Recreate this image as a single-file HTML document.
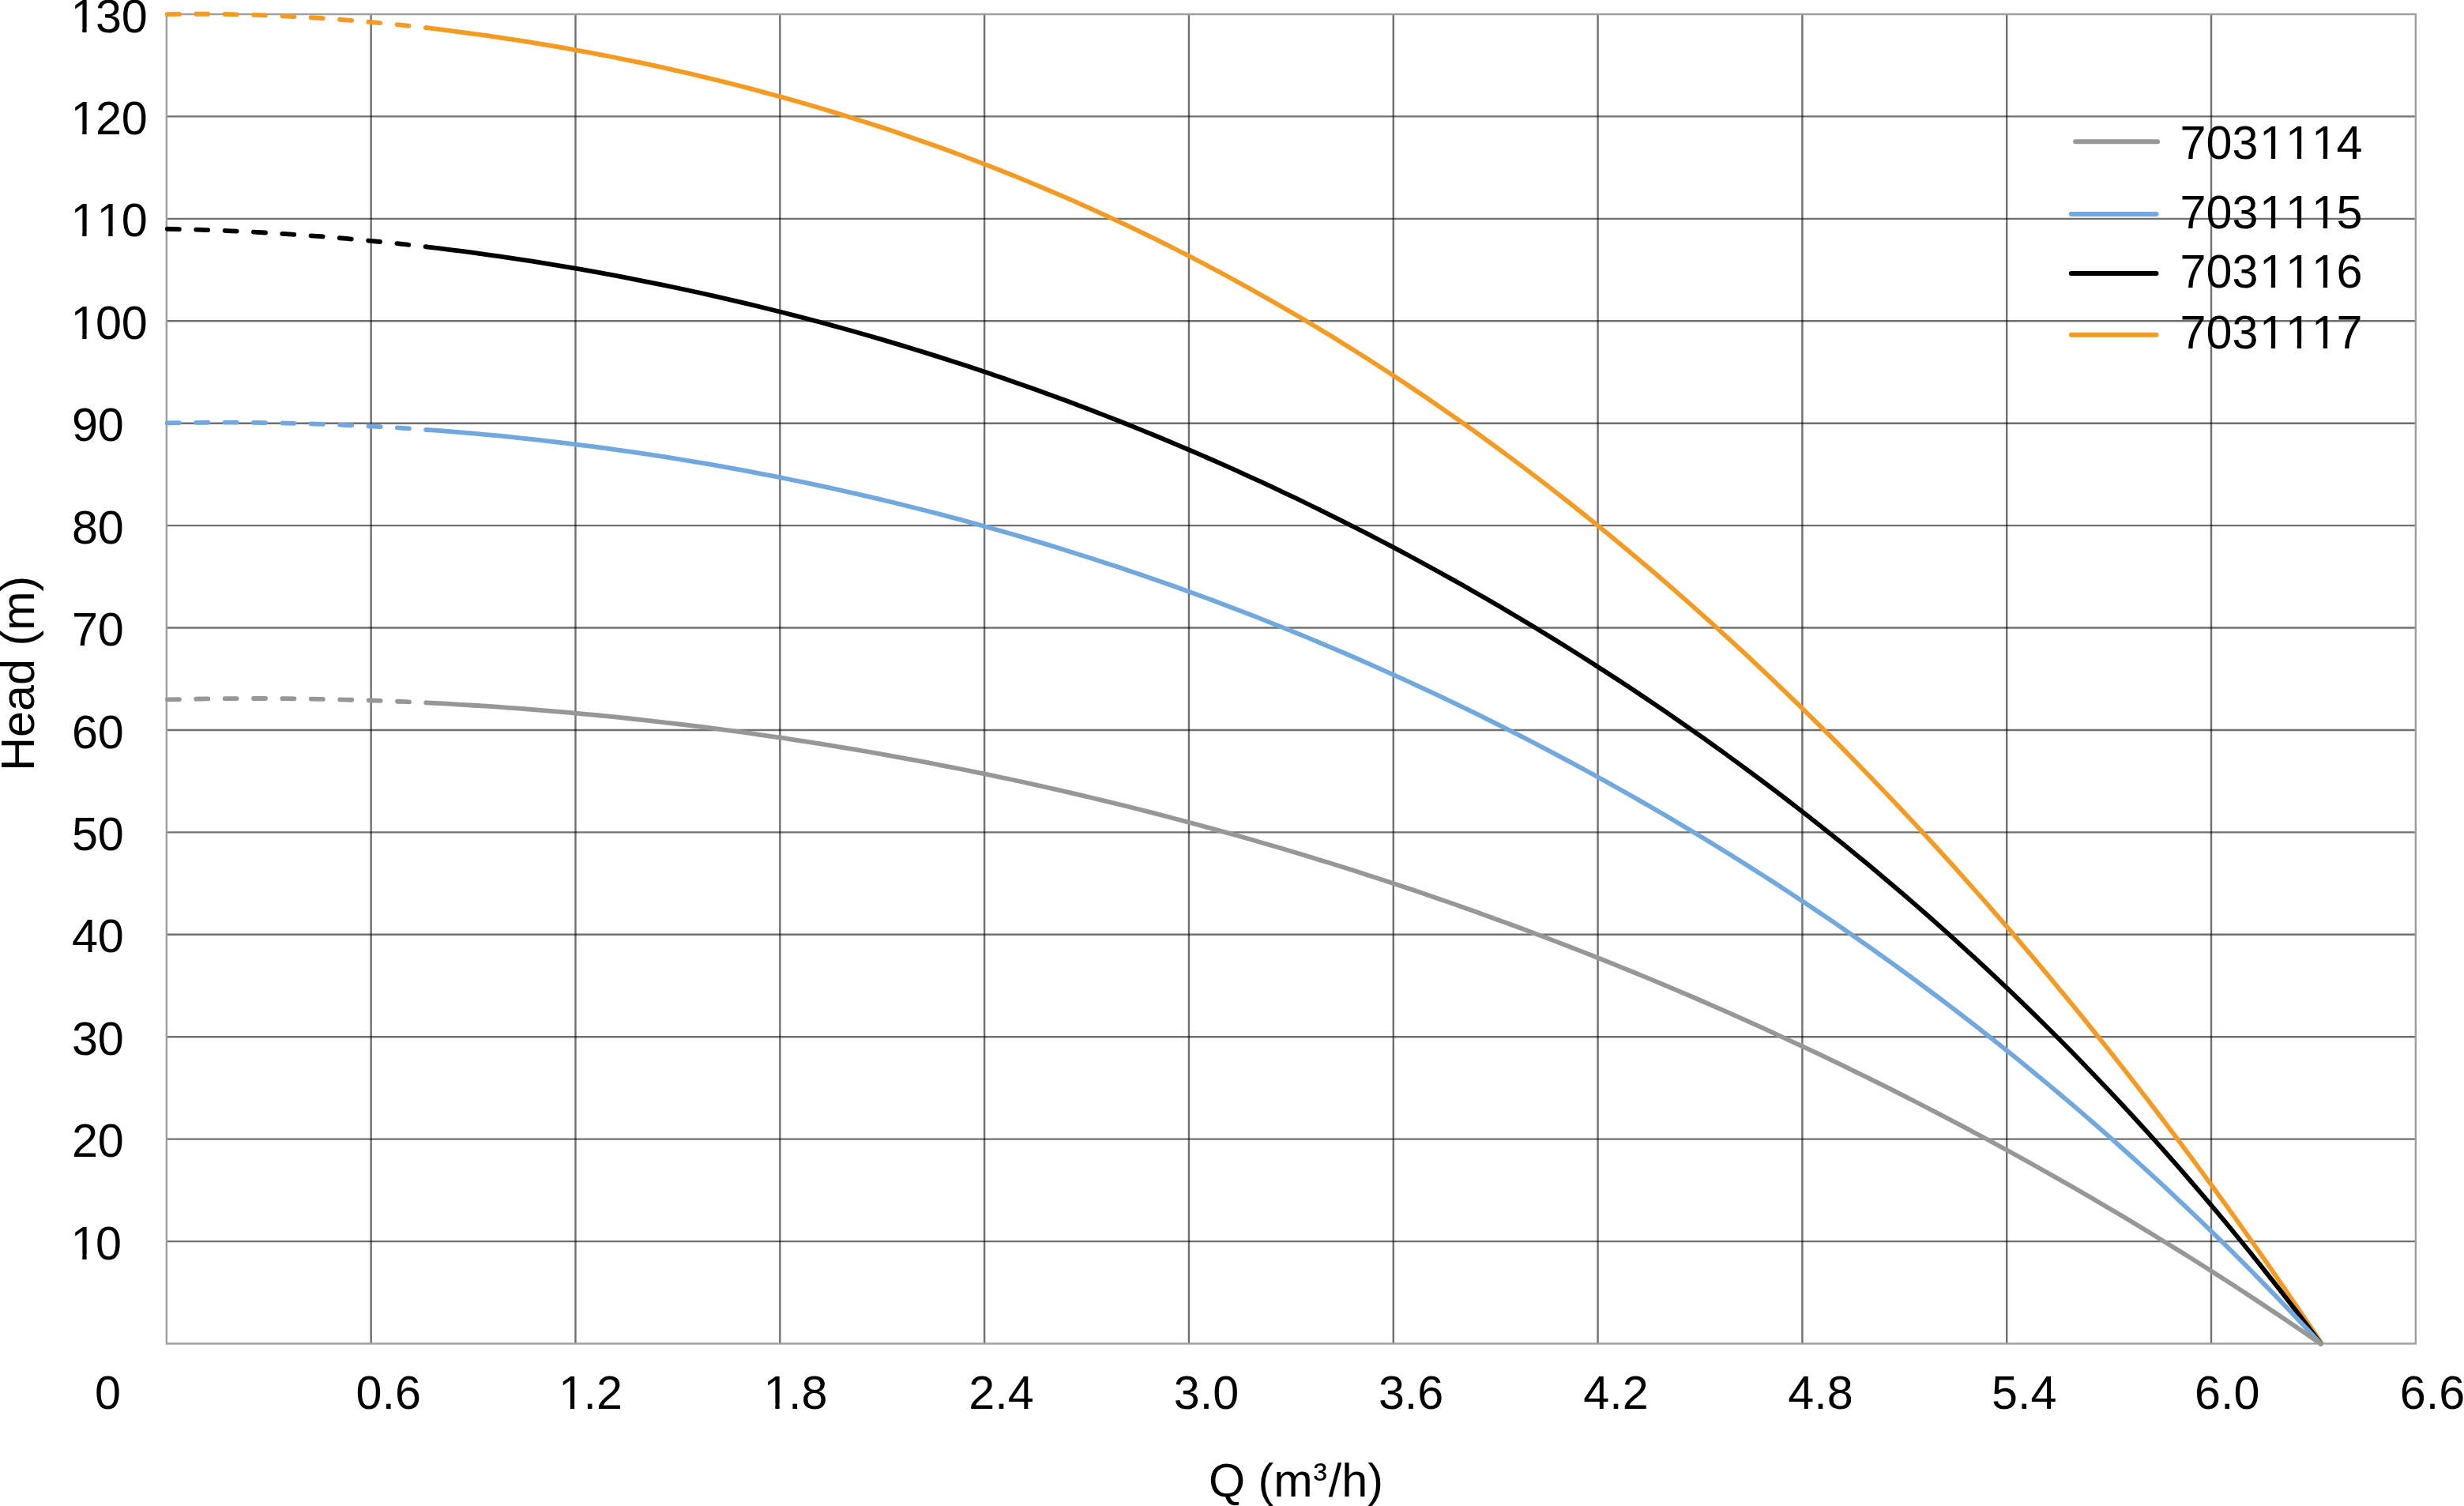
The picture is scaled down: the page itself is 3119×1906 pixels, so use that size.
<!DOCTYPE html>
<html><head><meta charset="utf-8"><title>Pump curves</title>
<style>html,body{margin:0;padding:0;background:#fff;overflow:hidden}svg{display:block}text{font-kerning:none;font-feature-settings:"kern" 0;}</style>
</head><body>
<svg xmlns="http://www.w3.org/2000/svg" width="3119" height="1906" viewBox="0 0 3119 1906">
<rect width="3119" height="1906" fill="#fff"/>
<path d="M469.67,18.00V1700.50M728.49,18.00V1700.50M987.30,18.00V1700.50M1246.12,18.00V1700.50M1504.94,18.00V1700.50M1763.76,18.00V1700.50M2022.58,18.00V1700.50M2281.40,18.00V1700.50M2540.21,18.00V1700.50M2799.03,18.00V1700.50" stroke="#000" stroke-opacity="0.56" stroke-width="2.4" fill="none"/>
<path d="M210.85,147.42H3057.85M210.85,276.85H3057.85M210.85,406.27H3057.85M210.85,535.69H3057.85M210.85,665.12H3057.85M210.85,794.54H3057.85M210.85,923.96H3057.85M210.85,1053.38H3057.85M210.85,1182.81H3057.85M210.85,1312.23H3057.85M210.85,1441.65H3057.85M210.85,1571.08H3057.85" stroke="#000" stroke-opacity="0.56" stroke-width="2.4" fill="none"/>
<rect x="210.85" y="18.00" width="2847.00" height="1682.50" stroke="#9e9e9e" stroke-width="2.4" fill="none"/>
<path d="M210.85,18.09 L236.13,17.75 L261.42,17.73 L286.70,18.01 L311.99,18.57 L337.27,19.40 L362.56,20.51 L387.84,21.88 L413.13,23.49 L438.41,25.36 L463.70,27.47 L488.98,29.81 L514.26,32.39 L539.55,35.20" stroke="#f49b24" stroke-width="5.8" fill="none" stroke-linecap="round" stroke-linejoin="round" stroke-dasharray="15 21.4" stroke-dashoffset="-1"/>
<path d="M539.55,35.20 L554.63,36.98 L569.72,38.84 L584.80,40.78 L599.88,42.80 L614.96,44.91 L630.05,47.09 L645.13,49.35 L660.21,51.68 L675.30,54.10 L690.38,56.60 L705.46,59.17 L720.55,61.83 L735.63,64.56 L750.71,67.37 L765.80,70.27 L780.88,73.24 L795.96,76.29 L811.04,79.43 L826.13,82.65 L841.21,85.94 L856.29,89.33 L871.38,92.79 L886.46,96.34 L901.54,99.97 L916.63,103.69 L931.71,107.50 L946.79,111.39 L961.88,115.37 L976.96,119.43 L992.04,123.59 L1007.12,127.83 L1022.21,132.17 L1037.29,136.59 L1052.37,141.11 L1067.46,145.73 L1082.54,150.43 L1097.62,155.23 L1112.71,160.13 L1127.79,165.12 L1142.87,170.21 L1157.96,175.40 L1173.04,180.69 L1188.12,186.07 L1203.20,191.56 L1218.29,197.15 L1233.37,202.85 L1248.45,208.64 L1263.54,214.55 L1278.62,220.55 L1293.70,226.67 L1308.79,232.89 L1323.87,239.22 L1338.95,245.66 L1354.04,252.21 L1369.12,258.87 L1384.20,265.64 L1399.28,272.53 L1414.37,279.52 L1429.45,286.64 L1444.53,293.87 L1459.62,301.21 L1474.70,308.67 L1489.78,316.25 L1504.87,323.95 L1519.95,331.77 L1535.03,339.70 L1550.12,347.76 L1565.20,355.94 L1580.28,364.25 L1595.36,372.67 L1610.45,381.22 L1625.53,389.90 L1640.61,398.69 L1655.70,407.62 L1670.78,416.67 L1685.86,425.85 L1700.95,435.16 L1716.03,444.60 L1731.11,454.16 L1746.20,463.86 L1761.28,473.68 L1776.36,483.64 L1791.44,493.73 L1806.53,503.95 L1821.61,514.30 L1836.69,524.79 L1851.78,535.41 L1866.86,546.17 L1881.94,557.06 L1897.03,568.09 L1912.11,579.25 L1927.19,590.55 L1942.28,601.99 L1957.36,613.56 L1972.44,625.28 L1987.52,637.13 L2002.61,649.12 L2017.69,661.25 L2032.77,673.53 L2047.86,685.94 L2062.94,698.49 L2078.02,711.19 L2093.11,724.03 L2108.19,737.01 L2123.27,750.14 L2138.36,763.41 L2153.44,776.83 L2168.52,790.39 L2183.60,804.10 L2198.69,817.95 L2213.77,831.96 L2228.85,846.11 L2243.94,860.40 L2259.02,874.85 L2274.10,889.45 L2289.19,904.20 L2304.27,919.11 L2319.35,934.16 L2334.44,949.37 L2349.52,964.73 L2364.60,980.25 L2379.68,995.92 L2394.77,1011.75 L2409.85,1027.74 L2424.93,1043.89 L2440.02,1060.20 L2455.10,1076.67 L2470.18,1093.30 L2485.27,1110.10 L2500.35,1127.06 L2515.43,1144.19 L2530.52,1161.49 L2545.60,1178.96 L2560.68,1196.59 L2575.76,1214.40 L2590.85,1232.39 L2605.93,1250.54 L2621.01,1268.88 L2636.10,1287.40 L2651.18,1306.10 L2666.26,1324.98 L2681.35,1344.04 L2696.43,1363.30 L2711.51,1382.74 L2726.60,1402.37 L2741.68,1422.21 L2756.76,1442.23 L2771.84,1462.46 L2786.93,1482.89 L2802.01,1503.52 L2817.09,1524.36 L2832.18,1545.42 L2847.26,1566.68 L2862.34,1588.17 L2877.43,1609.87 L2892.51,1631.80 L2907.59,1653.96 L2922.68,1676.35 L2937.76,1698.97" stroke="#f49b24" stroke-width="5.8" fill="none" stroke-linecap="round" stroke-linejoin="round"/>
<path d="M210.85,289.72 L236.13,290.30 L261.42,291.07 L286.70,292.05 L311.99,293.22 L337.27,294.59 L362.56,296.14 L387.84,297.89 L413.13,299.83 L438.41,301.96 L463.70,304.27 L488.98,306.77 L514.26,309.46 L539.55,312.34" stroke="#000000" stroke-width="5.8" fill="none" stroke-linecap="round" stroke-linejoin="round" stroke-dasharray="15 21.4" stroke-dashoffset="-1"/>
<path d="M539.55,312.34 L554.63,314.14 L569.72,316.01 L584.80,317.95 L599.88,319.95 L614.96,322.02 L630.05,324.16 L645.13,326.36 L660.21,328.63 L675.30,330.97 L690.38,333.37 L705.46,335.84 L720.55,338.38 L735.63,340.98 L750.71,343.65 L765.80,346.40 L780.88,349.20 L795.96,352.08 L811.04,355.03 L826.13,358.04 L841.21,361.12 L856.29,364.27 L871.38,367.49 L886.46,370.78 L901.54,374.14 L916.63,377.57 L931.71,381.07 L946.79,384.64 L961.88,388.29 L976.96,392.00 L992.04,395.78 L1007.12,399.64 L1022.21,403.57 L1037.29,407.57 L1052.37,411.64 L1067.46,415.78 L1082.54,420.00 L1097.62,424.30 L1112.71,428.66 L1127.79,433.10 L1142.87,437.62 L1157.96,442.21 L1173.04,446.87 L1188.12,451.61 L1203.20,456.43 L1218.29,461.32 L1233.37,466.29 L1248.45,471.33 L1263.54,476.45 L1278.62,481.65 L1293.70,486.93 L1308.79,492.29 L1323.87,497.72 L1338.95,503.23 L1354.04,508.83 L1369.12,514.50 L1384.20,520.25 L1399.28,526.09 L1414.37,532.00 L1429.45,538.00 L1444.53,544.08 L1459.62,550.24 L1474.70,556.48 L1489.78,562.80 L1504.87,569.21 L1519.95,575.71 L1535.03,582.28 L1550.12,588.95 L1565.20,595.69 L1580.28,602.53 L1595.36,609.45 L1610.45,616.45 L1625.53,623.55 L1640.61,630.73 L1655.70,638.00 L1670.78,645.36 L1685.86,652.81 L1700.95,660.35 L1716.03,667.98 L1731.11,675.70 L1746.20,683.51 L1761.28,691.42 L1776.36,699.42 L1791.44,707.51 L1806.53,715.70 L1821.61,723.99 L1836.69,732.37 L1851.78,740.84 L1866.86,749.42 L1881.94,758.09 L1897.03,766.86 L1912.11,775.74 L1927.19,784.71 L1942.28,793.79 L1957.36,802.97 L1972.44,812.25 L1987.52,821.64 L2002.61,831.13 L2017.69,840.73 L2032.77,850.44 L2047.86,860.26 L2062.94,870.19 L2078.02,880.23 L2093.11,890.38 L2108.19,900.65 L2123.27,911.04 L2138.36,921.54 L2153.44,932.15 L2168.52,942.89 L2183.60,953.75 L2198.69,964.73 L2213.77,975.84 L2228.85,987.07 L2243.94,998.43 L2259.02,1009.92 L2274.10,1021.54 L2289.19,1033.29 L2304.27,1045.17 L2319.35,1057.20 L2334.44,1069.36 L2349.52,1081.66 L2364.60,1094.10 L2379.68,1106.69 L2394.77,1119.43 L2409.85,1132.31 L2424.93,1145.35 L2440.02,1158.54 L2455.10,1171.89 L2470.18,1185.40 L2485.27,1199.06 L2500.35,1212.90 L2515.43,1226.89 L2530.52,1241.06 L2545.60,1255.41 L2560.68,1269.92 L2575.76,1284.62 L2590.85,1299.50 L2605.93,1314.56 L2621.01,1329.82 L2636.10,1345.26 L2651.18,1360.90 L2666.26,1376.74 L2681.35,1392.78 L2696.43,1409.03 L2711.51,1425.49 L2726.60,1442.16 L2741.68,1459.05 L2756.76,1476.16 L2771.84,1493.51 L2786.93,1511.08 L2802.01,1528.88 L2817.09,1546.93 L2832.18,1565.23 L2847.26,1583.77 L2862.34,1602.57 L2877.43,1621.62 L2892.51,1640.94 L2907.59,1660.54 L2922.68,1680.40 L2937.76,1700.55" stroke="#000000" stroke-width="5.8" fill="none" stroke-linecap="round" stroke-linejoin="round"/>
<path d="M210.85,535.41 L236.13,534.98 L261.42,534.73 L286.70,534.66 L311.99,534.78 L337.27,535.07 L362.56,535.54 L387.84,536.19 L413.13,537.02 L438.41,538.03 L463.70,539.21 L488.98,540.58 L514.26,542.12 L539.55,543.84" stroke="#71a8dd" stroke-width="5.8" fill="none" stroke-linecap="round" stroke-linejoin="round" stroke-dasharray="15 21.4" stroke-dashoffset="-1"/>
<path d="M539.55,543.84 L554.63,544.95 L569.72,546.12 L584.80,547.36 L599.88,548.66 L614.96,550.03 L630.05,551.46 L645.13,552.95 L660.21,554.51 L675.30,556.13 L690.38,557.82 L705.46,559.56 L720.55,561.38 L735.63,563.26 L750.71,565.20 L765.80,567.21 L780.88,569.28 L795.96,571.42 L811.04,573.63 L826.13,575.89 L841.21,578.23 L856.29,580.63 L871.38,583.10 L886.46,585.63 L901.54,588.23 L916.63,590.89 L931.71,593.62 L946.79,596.42 L961.88,599.29 L976.96,602.22 L992.04,605.22 L1007.12,608.28 L1022.21,611.42 L1037.29,614.62 L1052.37,617.89 L1067.46,621.23 L1082.54,624.64 L1097.62,628.11 L1112.71,631.66 L1127.79,635.27 L1142.87,638.95 L1157.96,642.71 L1173.04,646.53 L1188.12,650.42 L1203.20,654.38 L1218.29,658.42 L1233.37,662.52 L1248.45,666.70 L1263.54,670.94 L1278.62,675.26 L1293.70,679.65 L1308.79,684.11 L1323.87,688.64 L1338.95,693.25 L1354.04,697.93 L1369.12,702.68 L1384.20,707.50 L1399.28,712.40 L1414.37,717.37 L1429.45,722.41 L1444.53,727.53 L1459.62,732.73 L1474.70,738.00 L1489.78,743.34 L1504.87,748.76 L1519.95,754.26 L1535.03,759.83 L1550.12,765.48 L1565.20,771.20 L1580.28,777.01 L1595.36,782.89 L1610.45,788.85 L1625.53,794.88 L1640.61,801.00 L1655.70,807.19 L1670.78,813.47 L1685.86,819.82 L1700.95,826.25 L1716.03,832.77 L1731.11,839.36 L1746.20,846.04 L1761.28,852.80 L1776.36,859.64 L1791.44,866.56 L1806.53,873.57 L1821.61,880.66 L1836.69,887.84 L1851.78,895.10 L1866.86,902.45 L1881.94,909.88 L1897.03,917.40 L1912.11,925.01 L1927.19,932.70 L1942.28,940.48 L1957.36,948.36 L1972.44,956.32 L1987.52,964.37 L2002.61,972.51 L2017.69,980.75 L2032.77,989.07 L2047.86,997.49 L2062.94,1006.01 L2078.02,1014.62 L2093.11,1023.32 L2108.19,1032.12 L2123.27,1041.02 L2138.36,1050.02 L2153.44,1059.11 L2168.52,1068.31 L2183.60,1077.60 L2198.69,1087.00 L2213.77,1096.50 L2228.85,1106.10 L2243.94,1115.81 L2259.02,1125.63 L2274.10,1135.55 L2289.19,1145.58 L2304.27,1155.72 L2319.35,1165.97 L2334.44,1176.33 L2349.52,1186.80 L2364.60,1197.39 L2379.68,1208.09 L2394.77,1218.91 L2409.85,1229.85 L2424.93,1240.91 L2440.02,1252.09 L2455.10,1263.39 L2470.18,1274.81 L2485.27,1286.36 L2500.35,1298.04 L2515.43,1309.85 L2530.52,1321.79 L2545.60,1333.85 L2560.68,1346.06 L2575.76,1358.40 L2590.85,1370.87 L2605.93,1383.49 L2621.01,1396.25 L2636.10,1409.15 L2651.18,1422.20 L2666.26,1435.39 L2681.35,1448.73 L2696.43,1462.23 L2711.51,1475.88 L2726.60,1489.69 L2741.68,1503.65 L2756.76,1517.78 L2771.84,1532.07 L2786.93,1546.52 L2802.01,1561.15 L2817.09,1575.94 L2832.18,1590.91 L2847.26,1606.05 L2862.34,1621.38 L2877.43,1636.88 L2892.51,1652.58 L2907.59,1668.46 L2922.68,1684.53 L2937.76,1700.79" stroke="#71a8dd" stroke-width="5.8" fill="none" stroke-linecap="round" stroke-linejoin="round"/>
<path d="M210.85,885.46 L236.13,884.87 L261.42,884.43 L286.70,884.14 L311.99,884.01 L337.27,884.02 L362.56,884.18 L387.84,884.49 L413.13,884.94 L438.41,885.54 L463.70,886.28 L488.98,887.17 L514.26,888.20 L539.55,889.37" stroke="#979797" stroke-width="5.8" fill="none" stroke-linecap="round" stroke-linejoin="round" stroke-dasharray="15 21.4" stroke-dashoffset="-1"/>
<path d="M539.55,889.37 L554.63,890.14 L569.72,890.95 L584.80,891.82 L599.88,892.74 L614.96,893.71 L630.05,894.73 L645.13,895.80 L660.21,896.92 L675.30,898.09 L690.38,899.31 L705.46,900.58 L720.55,901.90 L735.63,903.27 L750.71,904.69 L765.80,906.16 L780.88,907.68 L795.96,909.25 L811.04,910.87 L826.13,912.54 L841.21,914.26 L856.29,916.03 L871.38,917.85 L886.46,919.73 L901.54,921.65 L916.63,923.62 L931.71,925.64 L946.79,927.72 L961.88,929.84 L976.96,932.02 L992.04,934.24 L1007.12,936.52 L1022.21,938.85 L1037.29,941.23 L1052.37,943.66 L1067.46,946.14 L1082.54,948.67 L1097.62,951.25 L1112.71,953.89 L1127.79,956.57 L1142.87,959.31 L1157.96,962.10 L1173.04,964.94 L1188.12,967.83 L1203.20,970.78 L1218.29,973.77 L1233.37,976.82 L1248.45,979.92 L1263.54,983.07 L1278.62,986.28 L1293.70,989.54 L1308.79,992.85 L1323.87,996.21 L1338.95,999.63 L1354.04,1003.10 L1369.12,1006.62 L1384.20,1010.20 L1399.28,1013.82 L1414.37,1017.51 L1429.45,1021.24 L1444.53,1025.03 L1459.62,1028.88 L1474.70,1032.78 L1489.78,1036.73 L1504.87,1040.73 L1519.95,1044.79 L1535.03,1048.91 L1550.12,1053.08 L1565.20,1057.30 L1580.28,1061.58 L1595.36,1065.92 L1610.45,1070.31 L1625.53,1074.75 L1640.61,1079.25 L1655.70,1083.81 L1670.78,1088.42 L1685.86,1093.09 L1700.95,1097.81 L1716.03,1102.59 L1731.11,1107.43 L1746.20,1112.32 L1761.28,1117.27 L1776.36,1122.28 L1791.44,1127.34 L1806.53,1132.46 L1821.61,1137.64 L1836.69,1142.88 L1851.78,1148.17 L1866.86,1153.53 L1881.94,1158.94 L1897.03,1164.41 L1912.11,1169.93 L1927.19,1175.52 L1942.28,1181.16 L1957.36,1186.87 L1972.44,1192.63 L1987.52,1198.46 L2002.61,1204.34 L2017.69,1210.28 L2032.77,1216.29 L2047.86,1222.35 L2062.94,1228.48 L2078.02,1234.66 L2093.11,1240.91 L2108.19,1247.22 L2123.27,1253.59 L2138.36,1260.03 L2153.44,1266.52 L2168.52,1273.08 L2183.60,1279.70 L2198.69,1286.39 L2213.77,1293.14 L2228.85,1299.95 L2243.94,1306.82 L2259.02,1313.77 L2274.10,1320.77 L2289.19,1327.85 L2304.27,1334.98 L2319.35,1342.19 L2334.44,1349.46 L2349.52,1356.79 L2364.60,1364.20 L2379.68,1371.67 L2394.77,1379.21 L2409.85,1386.82 L2424.93,1394.50 L2440.02,1402.25 L2455.10,1410.06 L2470.18,1417.95 L2485.27,1425.91 L2500.35,1433.94 L2515.43,1442.05 L2530.52,1450.22 L2545.60,1458.47 L2560.68,1466.79 L2575.76,1475.19 L2590.85,1483.66 L2605.93,1492.20 L2621.01,1500.83 L2636.10,1509.53 L2651.18,1518.30 L2666.26,1527.16 L2681.35,1536.09 L2696.43,1545.10 L2711.51,1554.20 L2726.60,1563.37 L2741.68,1572.63 L2756.76,1581.97 L2771.84,1591.39 L2786.93,1600.89 L2802.01,1610.48 L2817.09,1620.16 L2832.18,1629.92 L2847.26,1639.77 L2862.34,1649.71 L2877.43,1659.74 L2892.51,1669.86 L2907.59,1680.07 L2922.68,1690.38 L2937.76,1700.78" stroke="#979797" stroke-width="5.8" fill="none" stroke-linecap="round" stroke-linejoin="round"/>
<g font-family="Liberation Sans, Arial, sans-serif" font-size="59.3" fill="#000"><text x="87.90" y="1593.7" dx="1.5 -1.5">10</text><text x="90.90" y="1464.3">20</text><text x="90.90" y="1334.8">30</text><text x="90.90" y="1205.4">40</text><text x="90.90" y="1076.0">50</text><text x="90.90" y="946.6">60</text><text x="90.90" y="817.1">70</text><text x="90.90" y="687.7">80</text><text x="90.90" y="558.3">90</text><text x="87.90" y="428.9" dx="1.5 -1.5 0">100</text><text x="87.90" y="299.4" dx="1.5 0 -1.5">110</text><text x="87.90" y="170.0" dx="1.5 -1.5 0">120</text><text x="87.90" y="40.6" dx="1.5 -1.5 0">130</text><text x="120.10" y="1782.6">0</text><text x="450.50" y="1782.6">0.6</text><text x="705.50" y="1782.6" dx="1.5 -1.5 0">1.2</text><text x="965.00" y="1782.6" dx="1.5 -1.5 0">1.8</text><text x="1226.20" y="1782.6">2.4</text><text x="1485.80" y="1782.6">3.0</text><text x="1744.90" y="1782.6">3.6</text><text x="2004.30" y="1782.6">4.2</text><text x="2263.20" y="1782.6">4.8</text><text x="2521.00" y="1782.6">5.4</text><text x="2778.10" y="1782.6">6.0</text><text x="3037.80" y="1782.6">6.6</text><text x="2759.50" y="200.9" dx="0 0 0 1.5 0 0 -1.5">7031114</text><text x="2759.50" y="289.4" dx="0 0 0 1.5 0 0 -1.5">7031115</text><text x="2759.50" y="363.7" dx="0 0 0 1.5 0 0 -1.5">7031116</text><text x="2759.50" y="441.3" dx="0 0 0 1.5 0 0 -1.5">7031117</text></g>
<g fill="#fff"><rect x="92.90" y="1587.68" width="11.35" height="7.00"/><rect x="109.60" y="1587.68" width="11.00" height="7.00"/><rect x="92.90" y="422.87" width="11.35" height="7.00"/><rect x="109.60" y="422.87" width="11.00" height="7.00"/><rect x="92.90" y="293.45" width="11.35" height="7.00"/><rect x="109.60" y="293.45" width="11.00" height="7.00"/><rect x="125.88" y="293.45" width="11.35" height="7.00"/><rect x="142.58" y="293.45" width="11.00" height="7.00"/><rect x="92.90" y="164.02" width="11.35" height="7.00"/><rect x="109.60" y="164.02" width="11.00" height="7.00"/><rect x="92.90" y="34.60" width="11.35" height="7.00"/><rect x="109.60" y="34.60" width="11.00" height="7.00"/><rect x="710.50" y="1776.60" width="11.35" height="7.00"/><rect x="727.20" y="1776.60" width="11.00" height="7.00"/><rect x="970.00" y="1776.60" width="11.35" height="7.00"/><rect x="986.70" y="1776.60" width="11.00" height="7.00"/><rect x="2863.44" y="194.90" width="11.35" height="7.00"/><rect x="2880.14" y="194.90" width="11.00" height="7.00"/><rect x="2896.42" y="194.90" width="11.35" height="7.00"/><rect x="2913.12" y="194.90" width="11.00" height="7.00"/><rect x="2929.40" y="194.90" width="11.35" height="7.00"/><rect x="2946.10" y="194.90" width="11.00" height="7.00"/><rect x="2863.44" y="283.40" width="11.35" height="7.00"/><rect x="2880.14" y="283.40" width="11.00" height="7.00"/><rect x="2896.42" y="283.40" width="11.35" height="7.00"/><rect x="2913.12" y="283.40" width="11.00" height="7.00"/><rect x="2929.40" y="283.40" width="11.35" height="7.00"/><rect x="2946.10" y="283.40" width="11.00" height="7.00"/><rect x="2863.44" y="357.70" width="11.35" height="7.00"/><rect x="2880.14" y="357.70" width="11.00" height="7.00"/><rect x="2896.42" y="357.70" width="11.35" height="7.00"/><rect x="2913.12" y="357.70" width="11.00" height="7.00"/><rect x="2929.40" y="357.70" width="11.35" height="7.00"/><rect x="2946.10" y="357.70" width="11.00" height="7.00"/><rect x="2863.44" y="435.30" width="11.35" height="7.00"/><rect x="2880.14" y="435.30" width="11.00" height="7.00"/><rect x="2896.42" y="435.30" width="11.35" height="7.00"/><rect x="2913.12" y="435.30" width="11.00" height="7.00"/><rect x="2929.40" y="435.30" width="11.35" height="7.00"/><rect x="2946.10" y="435.30" width="11.00" height="7.00"/></g>
<text font-family="Liberation Sans, Arial, sans-serif" font-size="59.3" fill="#000" transform="translate(43.4,852.2) rotate(-90)" text-anchor="middle">Head (m)</text>
<text font-family="Liberation Sans, Arial, sans-serif" font-size="59.3" fill="#000" x="1530.0" y="1894.2">Q (m<tspan font-size="52.2" dx="0.8" dy="-6.05">³</tspan><tspan x="1681.85" dy="6.05">/h)</tspan></text>
<line x1="2627.2" y1="179.3" x2="2731.0" y2="179.3" stroke="#979797" stroke-width="6" stroke-linecap="round"/>
<line x1="2621.9" y1="270.9" x2="2729.5" y2="270.9" stroke="#71a8dd" stroke-width="6" stroke-linecap="round"/>
<line x1="2621.9" y1="346.1" x2="2729.5" y2="346.1" stroke="#000000" stroke-width="6" stroke-linecap="round"/>
<line x1="2621.9" y1="423.8" x2="2729.5" y2="423.8" stroke="#f49b24" stroke-width="6" stroke-linecap="round"/>
</svg>
</body></html>
